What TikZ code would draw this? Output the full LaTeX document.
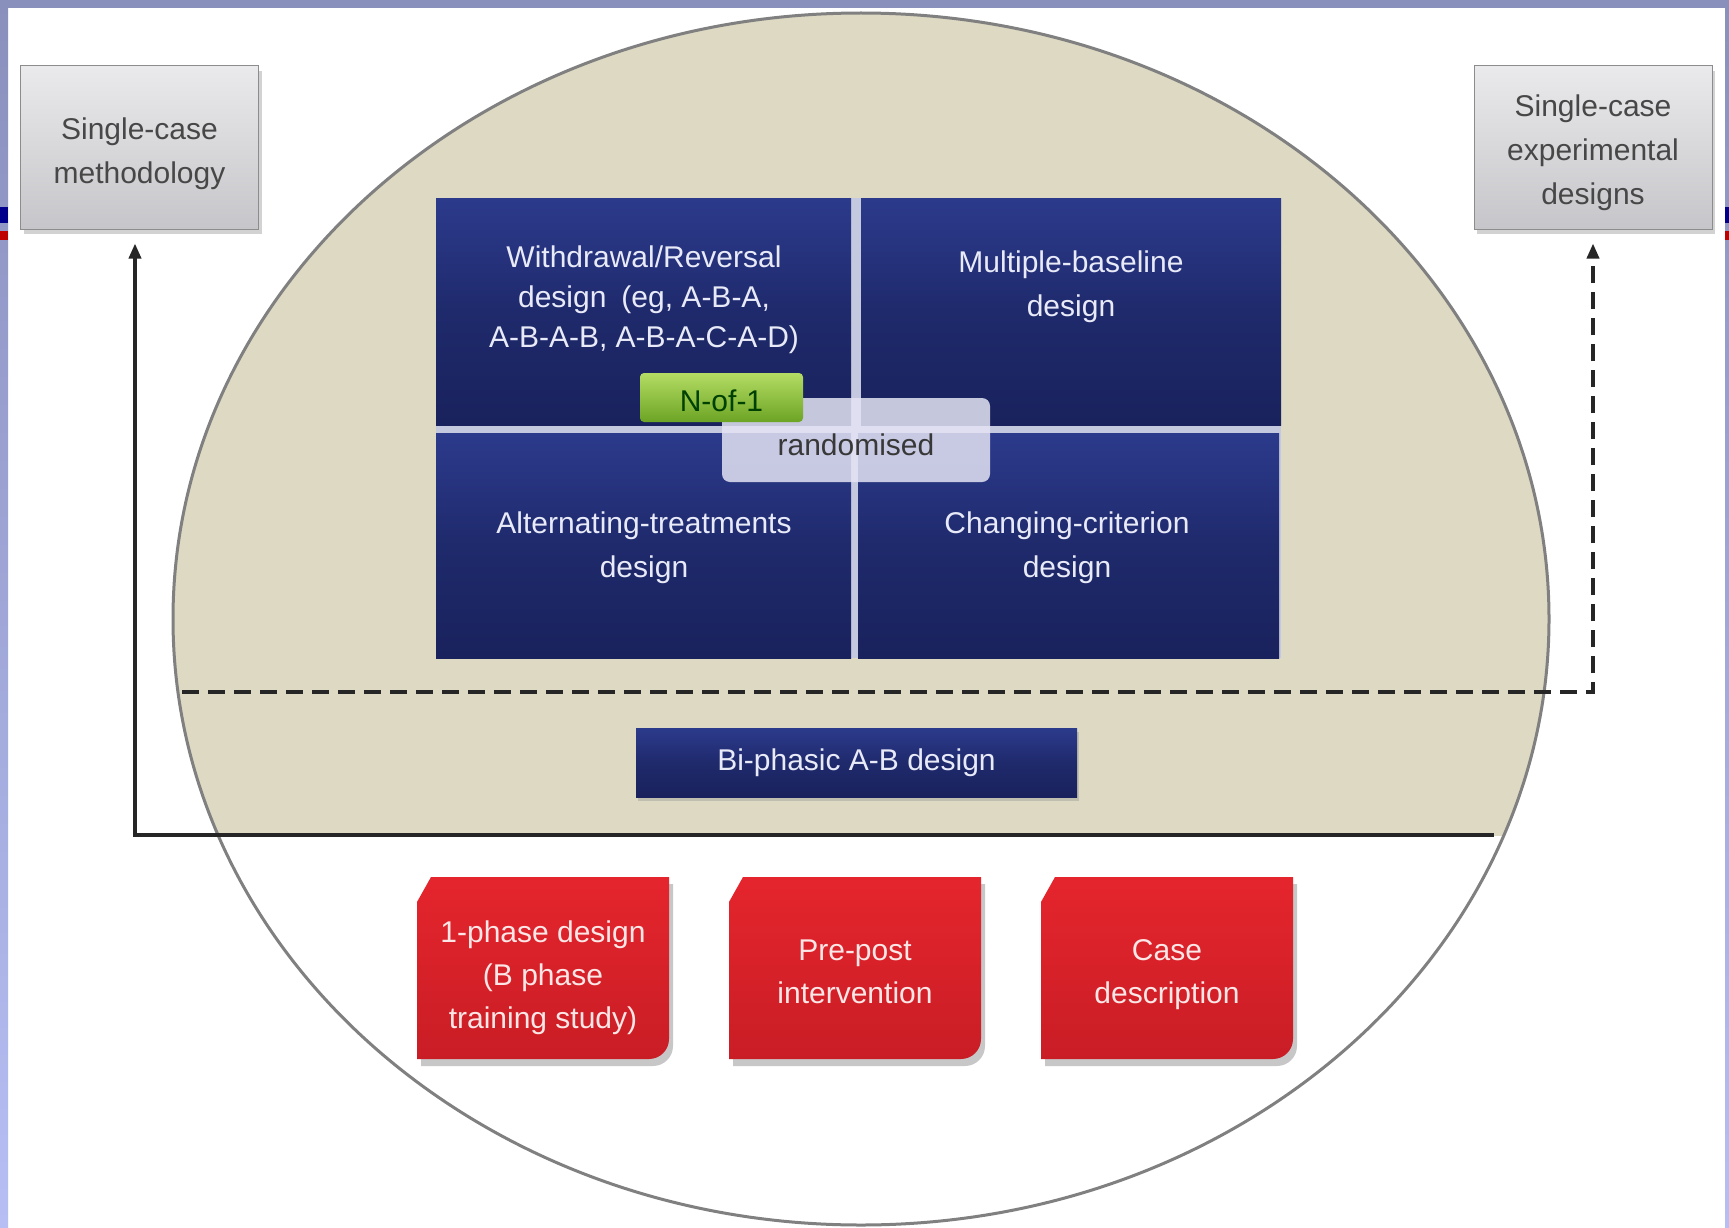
\documentclass[tikz,border=0pt]{standalone}
\usepackage{fontspec}
\setmainfont{Liberation Sans}
\usetikzlibrary{shadows,arrows.meta,calc}
\definecolor{beige}{HTML}{DDD9C3}
\definecolor{navy}{HTML}{1F2A6C}
\definecolor{navytop}{HTML}{2C3A8C}
\definecolor{navybot}{HTML}{19225C}
\definecolor{redA}{HTML}{E5252D}
\definecolor{redB}{HTML}{C91D25}
\definecolor{grayA}{HTML}{EAEAEC}
\definecolor{grayB}{HTML}{C6C6CA}
\definecolor{frameA}{HTML}{8A90BC}
\definecolor{frameB}{HTML}{B6BEF4}
\definecolor{greenA}{HTML}{B4DC64}
\definecolor{greenB}{HTML}{6CA424}
\definecolor{lighttxt}{HTML}{E8EAF8}
\definecolor{pinktxt}{HTML}{FCE6E6}
\definecolor{gapcol}{HTML}{C4C9E0}
\definecolor{randfill}{HTML}{E4E4F4}
\tikzset{
  every node/.style={font=\fontsize{30}{43}\selectfont},
  graybox/.style={draw=black!45, line width=1pt, top color=grayA, bottom color=grayB,
    minimum width=238pt, minimum height=163pt, inner sep=0pt,
    drop shadow={shadow xshift=3pt, shadow yshift=-5pt, opacity=0.35}},
  graytxt/.style={align=center, text=black!72, inner sep=0pt, font=\fontsize{30}{44}\selectfont},
  quad/.style={top color=navytop, bottom color=navybot, middle color=navy, inner sep=0pt},
  qtxt/.style={text=lighttxt, align=center, inner sep=0pt},
  redtxt/.style={text=pinktxt, align=center, inner sep=0pt},
  conn/.style={line width=3.5pt, black!85, line join=miter, -{Triangle[length=15pt,width=12pt]}, shorten >=14pt},
  dashconn/.style={conn, dash pattern=on 17pt off 9pt},
}
\begin{document}
\begin{tikzpicture}[x=1pt,y=-1pt]
\useasboundingbox (0,0) rectangle (1729,1228);
\fill[white] (0,0) rectangle (1729,1228);
% frame
\shade[top color=frameA, bottom color=frameB] (0,0) rectangle (8,1228);
\shade[top color=frameA, bottom color=frameB] (1725,0) rectangle (1729,1228);
\fill[frameA] (0,0) rectangle (1729,8);
\fill[blue!55!black] (0,207) rectangle (8,223);
\fill[red!75!black] (0,231) rectangle (8,240);
\fill[blue!55!black] (1725,207) rectangle (1729,223);
\fill[red!75!black] (1725,231) rectangle (1729,240);
% ellipse
\begin{scope}
  \clip (0,0) rectangle (1729,835);
  \fill[beige] (861,619) ellipse [x radius=688, y radius=606];
\end{scope}
\draw[black!50, line width=3pt] (861,619) ellipse [x radius=688, y radius=606];
% top boxes
\node[graybox] (lbox) at (139.5,147.5) {};
\node[graytxt] (lboxt) at (139.5,153.5) {Single-case\\methodology};
\node[graybox] (rbox) at (1593,147.5) {};
\node[graytxt] (rboxt) at (1593,153) {Single-case\\experimental\\designs};
% connectors
\coordinate (sL) at (135,835);
\coordinate (sR) at (1494,835);
\draw[conn] (sR) -- (sL) -- (sL |- lbox.south);
\coordinate (dL) at (182,692);
\coordinate (dR) at (rbox.south |- dL);
\draw[dashconn] (dL) -- (dR) -- (rbox.south);
% quadrants
\fill[gapcol] (436,198) rectangle (1281,658);
\node[quad, minimum width=415pt, minimum height=227pt] (q1) at (643.5,311.5) {};
\node[quad, minimum width=420pt, minimum height=227pt] (q2) at (1071,311.5) {};
\node[quad, minimum width=415pt, minimum height=225pt] (q3) at (643.5,545.5) {};
\node[quad, minimum width=421pt, minimum height=225pt] (q4) at (1068.5,545.5) {};
\node[qtxt, font=\fontsize{30}{40}\selectfont] (t1) at (644,300) {Withdrawal/Reversal\\design\enspace(eg, A-B-A,\\A-B-A-B, A-B-A-C-A-D)};
\node[qtxt, font=\fontsize{30}{44}\selectfont] (t2) at (1071,287) {Multiple-baseline\\design};
\node[qtxt, font=\fontsize{30}{44}\selectfont] (t3) at (644,548) {Alternating-treatments\\design};
\node[qtxt, font=\fontsize{30}{44}\selectfont] (t4) at (1067,548) {Changing-criterion\\design};
% randomised and N-of-1
\node[fill=randfill, fill opacity=0.85, text opacity=1, text=black!78, rounded corners=8pt,
  minimum width=268pt, minimum height=84pt, inner sep=0pt] (rand) at (856,440) {\smash{\raisebox{-15pt}{randomised}}};
\node[top color=greenA, bottom color=greenB, text=green!25!black, rounded corners=4pt,
  minimum width=163pt, minimum height=49pt, inner sep=0pt] (nof1) at (721.5,397.5) {\smash{\raisebox{-13.5pt}{N-of-1}}};
% bi-phasic
\node[quad, minimum width=441pt, minimum height=69pt, text=lighttxt,
  drop shadow={shadow xshift=2pt, shadow yshift=-4pt, opacity=0.3}] (biph) at (856.5,762.5) {Bi-phasic A-B design};
% red boxes
\foreach \x in {417,729,1041}{
  \fill[black, opacity=0.22] (\x+4,1066) -- (\x+4,907) -- (\x+18,884) -- (\x+256,884) -- (\x+256,1046)
     arc[start angle=0, end angle=90, radius=20] -- cycle;
  \shade[top color=redA, bottom color=redB] (\x,1059) -- (\x,902) -- (\x+14,877) -- (\x+252,877) -- (\x+252,1039)
     arc[start angle=0, end angle=90, radius=20] -- cycle;
}
\node[redtxt] (r1) at (543,978) {1-phase design\\(B phase\\training study)};
\node[redtxt] (r2) at (855,972) {Pre-post\\intervention};
\node[redtxt] (r3) at (1167,975) {Case\\description};
\end{tikzpicture}
\end{document}
